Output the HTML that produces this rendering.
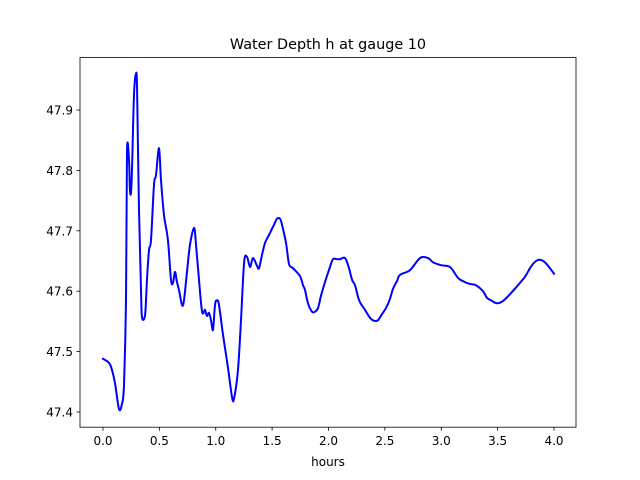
<!DOCTYPE html>
<html><head><meta charset="utf-8"><style>
body{margin:0;background:#fff;}
svg{display:block;font-family:"DejaVu Sans","Liberation Sans",sans-serif;}
</style></head><body>
<svg id="chart" width="640" height="480">
<rect width="640" height="480" fill="#fff"/>
<text x="328" y="49" text-anchor="middle" font-size="14.4">Water Depth h at gauge 10</text>
<g id="xt"></g>
<g id="yt"></g>
<path id="line" fill="none" stroke="#0000ff" stroke-width="2" stroke-linejoin="round" stroke-linecap="square"/>
<rect x="80" y="57.6" width="496" height="369.6" fill="none" stroke="#000" stroke-width="0.8"/>
<text x="328" y="466" text-anchor="middle" font-size="12">hours</text>
</svg>
<script>
const hours=[0,0.044,0.071,0.106,0.142,0.168,0.186,0.204,0.213,0.231,0.239,0.248,0.257,0.275,0.293,0.302,0.319,0.337,0.346,0.373,0.390,0.408,0.426,0.452,0.470,0.497,0.514,0.541,0.576,0.603,0.621,0.639,0.656,0.674,0.701,0.718,0.745,0.772,0.807,0.825,0.851,0.878,0.896,0.905,0.922,0.940,0.958,0.976,0.993,1.011,1.029,1.064,1.109,1.144,1.162,1.197,1.224,1.251,1.277,1.304,1.330,1.366,1.384,1.410,1.437,1.472,1.490,1.517,1.543,1.570,1.588,1.623,1.650,1.685,1.747,1.774,1.792,1.818,1.854,1.880,1.907,1.933,1.969,2.013,2.040,2.075,2.102,2.146,2.182,2.208,2.235,2.271,2.324,2.368,2.404,2.439,2.474,2.510,2.545,2.572,2.608,2.634,2.723,2.812,2.882,2.927,2.998,3.078,3.149,3.211,3.255,3.308,3.370,3.406,3.450,3.494,3.548,3.610,3.681,3.743,3.787,3.823,3.867,3.911,3.956,4.0];
const depth=[47.488,47.483,47.475,47.448,47.405,47.413,47.445,47.585,47.830,47.817,47.768,47.763,47.801,47.925,47.960,47.933,47.735,47.602,47.557,47.561,47.619,47.668,47.685,47.776,47.792,47.837,47.784,47.726,47.685,47.619,47.614,47.632,47.615,47.602,47.577,47.585,47.632,47.677,47.705,47.677,47.619,47.567,47.566,47.569,47.559,47.564,47.552,47.536,47.577,47.585,47.577,47.528,47.473,47.425,47.422,47.470,47.552,47.647,47.657,47.640,47.655,47.642,47.638,47.660,47.680,47.693,47.700,47.710,47.720,47.720,47.710,47.680,47.645,47.638,47.625,47.610,47.602,47.580,47.566,47.566,47.572,47.592,47.615,47.640,47.653,47.653,47.653,47.655,47.638,47.619,47.610,47.585,47.569,47.556,47.551,47.552,47.562,47.572,47.587,47.604,47.617,47.627,47.635,47.655,47.655,47.648,47.643,47.640,47.622,47.615,47.612,47.610,47.600,47.589,47.584,47.580,47.584,47.595,47.610,47.624,47.638,47.647,47.652,47.649,47.640,47.629,47.617];
const xTicks=[0,0.5,1,1.5,2,2.5,3,3.5,4];
const yTicks=[47.4,47.5,47.6,47.7,47.8,47.9];
const X=v=>103+v*112.75;
const Y=v=>412-(v-47.4)*604;
const ns="http://www.w3.org/2000/svg";
const xt=document.getElementById('xt'), yt=document.getElementById('yt');
xTicks.forEach(t=>{
  const l=document.createElementNS(ns,'line');
  l.setAttribute('x1',X(t));l.setAttribute('x2',X(t));l.setAttribute('y1',427.2);l.setAttribute('y2',430.7);l.setAttribute('stroke','#000');l.setAttribute('stroke-width','0.8');
  
  
  xt.appendChild(l);
  const s=document.createElementNS(ns,'text');
  s.setAttribute('x',X(t));s.setAttribute('y',445);s.setAttribute('text-anchor','middle');s.setAttribute('font-size','12');
  s.textContent=t.toFixed(1);
  
  
  xt.appendChild(s);
});
yTicks.forEach(t=>{
  const l=document.createElementNS(ns,'line');
  l.setAttribute('x1',76.5);l.setAttribute('x2',80);l.setAttribute('y1',Y(t));l.setAttribute('y2',Y(t));l.setAttribute('stroke','#000');l.setAttribute('stroke-width','0.8');
  
  
  yt.appendChild(l);
  const s=document.createElementNS(ns,'text');
  s.setAttribute('x',73);s.setAttribute('y',Y(t)+4.5);s.setAttribute('text-anchor','end');s.setAttribute('font-size','12');
  s.textContent=t.toFixed(1);
  
  
  yt.appendChild(s);
});
const P=hours.map((h,i)=>[X(h),Y(depth[i])]);
let d='M'+P[0][0].toFixed(1)+','+P[0][1].toFixed(1);
for(let i=0;i<P.length-1;i++){
  const p0=P[Math.max(0,i-1)],p1=P[i],p2=P[i+1],p3=P[Math.min(P.length-1,i+2)];
  const c1=[p1[0]+(p2[0]-p0[0])/6,p1[1]+(p2[1]-p0[1])/6];
  const c2=[p2[0]-(p3[0]-p1[0])/6,p2[1]-(p3[1]-p1[1])/6];
  d+='C'+c1.map(v=>v.toFixed(1)).join(',')+' '+c2.map(v=>v.toFixed(1)).join(',')+' '+p2.map(v=>v.toFixed(1)).join(',');
}
document.getElementById('line').setAttribute('d',d);
</script>
</body></html>
